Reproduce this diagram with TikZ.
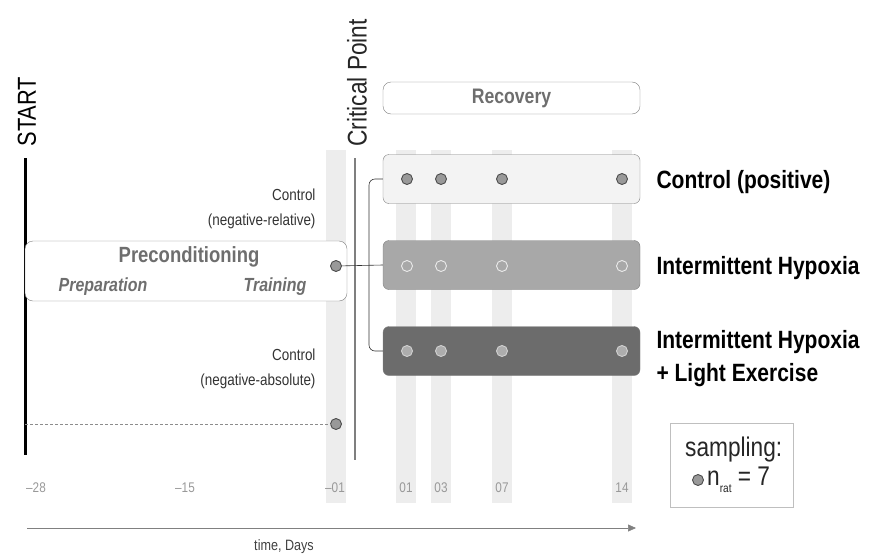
\documentclass[tikz,border=0pt]{standalone}
\usepackage{fontspec}
\setmainfont{Liberation Sans}[FakeStretch=0.84]
\usetikzlibrary{arrows.meta,positioning}
\definecolor{linegray}{HTML}{7F7F7F}
\definecolor{textgray}{HTML}{6E6E6E}
\definecolor{bandgray}{HTML}{EDEDED}
\definecolor{ctrlfill}{HTML}{F3F3F3}
\definecolor{ihfill}{HTML}{A8A8A8}
\definecolor{ihlefill}{HTML}{6C6C6C}
\begin{document}
\begin{tikzpicture}[x=1pt,y=-1pt,
groupbox/.style={draw=linegray,rounded corners=6pt,minimum width=257pt,minimum height=49pt,inner sep=0pt},
phasebox/.style={draw=linegray,fill=white,rounded corners=8pt,inner sep=0pt},
dot/.style={circle,draw=#1,line width=0.9pt,minimum size=11pt,inner sep=0pt},
dot/.default={black!70},
grouplabel/.style={anchor=west,font=\bfseries\fontsize{25}{33}\selectfont,align=left},
ctrllabel/.style={anchor=east,font=\fontsize{16}{25}\selectfont,align=right,text=black!80},
tick/.style={font=\fontsize{14}{16}\selectfont,text=black!40},
band/.style={fill=bandgray}]
\useasboundingbox (0,0) rectangle (874,554);

% sampling days (background bands)
\foreach \x in {336,406,441,502,622}
  \fill[band] (\x-10,150) rectangle (\x+10,503);

% start and critical point
\draw[line width=3pt] (25,158) coordinate (start-top) -- (25,455) coordinate (start-bot);
\node[rotate=90,anchor=west,font=\fontsize{26}{30}\selectfont] (start) at (27,150) {START};
\draw[linegray,line width=1.5pt] (355,158) coordinate (cp-top) -- (355,460) coordinate (cp-bot);
\node[rotate=90,anchor=west,font=\fontsize{27}{30}\selectfont,text=black!85] (cp) at (357,150) {Critical Point};

% phases
\node[phasebox,minimum width=257pt,minimum height=32pt] (recovery) at (511.5,98)
  {\textcolor{textgray}{\bfseries\fontsize{21}{24}\selectfont Recovery}};
\node[phasebox,minimum width=322pt,minimum height=60pt] (precond) at (186,271) {};
\node[text=textgray,font=\bfseries\fontsize{22}{26}\selectfont] (prectext) at (189,257) {Preconditioning};
\node[text=textgray,font=\bfseries\itshape\fontsize{19}{22}\selectfont] (prep) at (103,287) {Preparation};
\node[text=textgray,font=\bfseries\itshape\fontsize{19}{22}\selectfont] (train) at (275,287) {Training};

% groups
\node[groupbox,fill=ctrlfill] (ctrl) at (511.5,179) {};
\node[groupbox,fill=ihfill] (ih) at (511.5,265) {};
\node[groupbox,fill=ihlefill] (ihle) at (511.5,351) {};
\foreach \x in {407,441,502,622} {
  \node[dot,fill=black!40] (ctrl-\x) at (\x,179) {};
  \node[dot=black!8,fill=ihfill] (ih-\x) at (\x,266) {};
  \node[dot=black!18,fill=black!32] (ihle-\x) at (\x,351) {};
}
\node[grouplabel] (ctrllab) at (653,182) {Control (positive)};
\node[grouplabel] (ihlab) at (653,268) {Intermittent Hypoxia};
\node[grouplabel] (ihlelab) at (653,359) {Intermittent Hypoxia\\+ Light Exercise};

% negative controls
\node[dot,fill=black!40] (negrel) at (336,266) {};
\node[dot,fill=black!40] (negabs) at (336,424) {};
\node[ctrllabel] (negrellab) at (319,209) {Control\\(negative-relative)};
\node[ctrllabel] (negabslab) at (319,369) {Control\\(negative-absolute)};
\draw[black!45,dash pattern=on 3pt off 2pt,line width=0.7pt] (25,424) coordinate (dash-start) -- (negabs);

% branching
\draw[black!80,line width=0.6pt] (negrel) -- (ih.west);
\draw[black!80,line width=0.6pt,rounded corners=6pt] (ctrl.west) -- (369,179) -- (369,351) -- (ihle.west);

% time axis
\foreach \x/\d in {36/–28,185/–15,335/–01,406/01,441/03,502/07,622/14}
  \node[tick] (t\d) at (\x,488) {\d};
\draw[black!50,line width=0.6pt,-{Triangle[length=8pt,width=7pt]}] (27,528) coordinate (ax-start) -- (636,528) coordinate (ax-end);
\node[font=\fontsize{15}{17}\selectfont,text=black!75] (axlab) at (284,547) {time, Days};

% legend
\node[draw=black!25,fill=white,minimum width=123pt,minimum height=84pt,inner sep=0pt] (legend) at (731.5,465) {};
\node[anchor=west,font=\fontsize{27}{30}\selectfont,text=black!85,inner sep=1pt] (samp) at (684,450) {sampling:};
\node[dot,fill=black!40] (legdot) at (698,480) {};
\node[anchor=west,font=\fontsize{27}{30}\selectfont,text=black!85,inner sep=1pt] (nrat) at (706,480)
  {n\raisebox{-7pt}{\fontsize{12}{12}\selectfont rat} = 7};
\end{tikzpicture}
\end{document}
